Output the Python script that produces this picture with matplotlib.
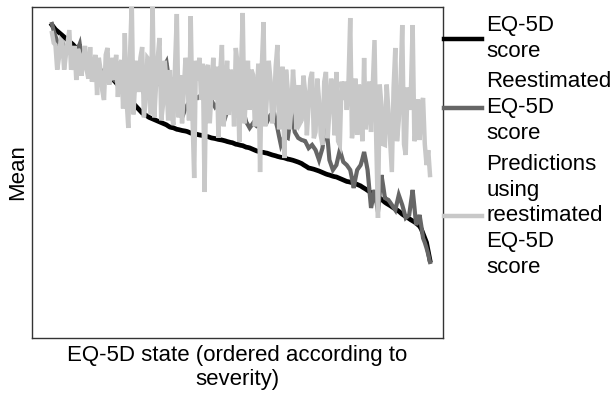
import numpy as np
import matplotlib
matplotlib.use("Agg")
import matplotlib.pyplot as plt

plt.rcParams['font.family'] = ['Liberation Sans', 'DejaVu Sans']

# mean values per EQ-5D state, states ordered by severity
eq5d_score = [
    1.00, 0.985, 0.97, 0.96, 0.95, 0.94, 0.93, 0.92, 0.91, 0.90,
    0.89, 0.88, 0.87, 0.858, 0.845, 0.832, 0.82, 0.81, 0.80, 0.788,
    0.775, 0.762, 0.75, 0.742, 0.735, 0.725, 0.715, 0.705, 0.695, 0.688,
    0.68, 0.67, 0.66, 0.652, 0.645, 0.635, 0.625, 0.612, 0.60, 0.585,
    0.57, 0.55, 0.53, 0.518, 0.505, 0.495, 0.485, 0.472, 0.46, 0.448,
    0.435, 0.422, 0.41, 0.402, 0.395, 0.388, 0.38, 0.375, 0.37, 0.365,
    0.36, 0.355, 0.35, 0.345, 0.34, 0.335, 0.33, 0.322, 0.315, 0.312,
    0.31, 0.305, 0.30, 0.298, 0.295, 0.292, 0.29, 0.288, 0.285, 0.28,
    0.275, 0.272, 0.27, 0.268, 0.265, 0.262, 0.26, 0.258, 0.255, 0.252,
    0.25, 0.246, 0.242, 0.24, 0.238, 0.235, 0.232, 0.23, 0.228, 0.225,
    0.222, 0.218, 0.215, 0.212, 0.21, 0.205, 0.20, 0.198, 0.195, 0.192,
    0.19, 0.185, 0.18, 0.178, 0.175, 0.17, 0.165, 0.16, 0.155, 0.152,
    0.148, 0.146, 0.145, 0.142, 0.14, 0.136, 0.132, 0.128, 0.125, 0.122,
    0.118, 0.115, 0.112, 0.11, 0.108, 0.104, 0.10, 0.098, 0.095, 0.092,
    0.088, 0.084, 0.08, 0.075, 0.07, 0.062, 0.055, 0.048, 0.04, 0.038,
    0.035, 0.032, 0.028, 0.024, 0.02, 0.015, 0.01, 0.005, 0.0, -0.004,
    -0.007, -0.011, -0.015, -0.018, -0.02, -0.025, -0.03, -0.035, -0.04, -0.045,
    -0.05, -0.052, -0.055, -0.058, -0.06, -0.065, -0.07, -0.075, -0.08, -0.088,
    -0.095, -0.102, -0.11, -0.118, -0.125, -0.132, -0.14, -0.148, -0.155, -0.162,
    -0.17, -0.18, -0.19, -0.198, -0.205, -0.212, -0.22, -0.228, -0.235, -0.242,
    -0.25, -0.26, -0.27, -0.278, -0.285, -0.292, -0.30, -0.308, -0.315, -0.322,
    -0.33, -0.34, -0.35, -0.37, -0.40, -0.43, -0.46, -0.52, -0.58,
]

reestimated = [
    1.007, 0.96, 0.926, 0.89, 0.866, 0.88, 0.886, 0.85, 0.832, 0.826,
    0.819, 0.81, 0.799, 0.79, 0.785, 0.84, 0.872, 0.79, 0.732, 0.745,
    0.752, 0.745, 0.738, 0.73, 0.725, 0.718, 0.711, 0.705, 0.698, 0.69,
    0.685, 0.678, 0.671, 0.66, 0.651, 0.64, 0.631, 0.665, 0.685, 0.678,
    0.671, 0.665, 0.658, 0.645, 0.631, 0.624, 0.617, 0.614, 0.611, 0.604,
    0.597, 0.59, 0.577, 0.54, 0.510, 0.55, 0.591, 0.584, 0.577, 0.584,
    0.591, 0.61, 0.631, 0.665, 0.698, 0.73, 0.752, 0.67, 0.597, 0.615,
    0.631, 0.59, 0.550, 0.52, 0.497, 0.45, 0.409, 0.44, 0.463, 0.48,
    0.497, 0.51, 0.523, 0.515, 0.510, 0.52, 0.530, 0.55, 0.564, 0.54,
    0.517, 0.507, 0.497, 0.47, 0.450, 0.465, 0.483, 0.49, 0.497, 0.44,
    0.383, 0.42, 0.456, 0.45, 0.443, 0.45, 0.456, 0.443, 0.430, 0.437,
    0.443, 0.396, 0.349, 0.33, 0.309, 0.325, 0.342, 0.332, 0.322, 0.329,
    0.336, 0.356, 0.376, 0.362, 0.349, 0.372, 0.396, 0.406, 0.416, 0.36,
    0.309, 0.25, 0.195, 0.225, 0.255, 0.248, 0.242, 0.33, 0.416, 0.35,
    0.282, 0.262, 0.242, 0.235, 0.228, 0.225, 0.221, 0.198, 0.174, 0.185,
    0.195, 0.178, 0.161, 0.128, 0.094, 0.134, 0.174, 0.27, 0.362, 0.23,
    0.094, 0.06, 0.027, 0.044, 0.060, 0.11, 0.161, 0.12, 0.081, 0.07,
    0.060, 0.044, 0.027, -0.03, -0.094, -0.03, 0.027, 0.044, 0.060, 0.1,
    0.148, 0.09, 0.027, -0.1, -0.228, -0.17, -0.107, -0.18, -0.255, -0.13,
    -0.007, -0.08, -0.161, -0.168, -0.174, -0.19, -0.208, -0.225, -0.242, -0.19,
    -0.141, -0.175, -0.208, -0.25, -0.295, -0.285, -0.275, -0.19, -0.107, -0.22,
    -0.342, -0.31, -0.275, -0.35, -0.430, -0.46, -0.497, -0.54, -0.591,
]

predictions = [
    0.946, 0.88, 0.866, 0.70, 0.779, 0.90, 0.886, 0.70, 0.799, 0.88,
    0.966, 0.70, 0.752, 0.86, 0.631, 0.84, 0.799, 0.66, 0.765, 0.86,
    0.698, 0.64, 0.852, 0.62, 0.664, 0.80, 0.530, 0.78, 0.698, 0.56,
    0.497, 0.80, 0.846, 0.60, 0.664, 0.78, 0.631, 0.80, 0.517, 0.72,
    0.765, 0.44, 0.946, 0.50, 0.309, 0.80, 1.154, 0.40, 0.631, 0.76,
    0.550, 0.78, 0.852, 0.38, 0.483, 0.78, 0.765, 0.40, 1.168, 0.38,
    0.597, 0.78, 0.913, 0.36, 0.463, 0.76, 0.631, 0.36, 0.698, 0.40,
    0.329, 0.74, 1.074, 0.38, 0.664, 0.34, 0.564, 0.78, 0.698, 0.36,
    1.060, 0.40, -0.027, 0.76, 0.631, 0.78, 0.497, 0.74, -0.121, 0.70,
    0.732, 0.34, 0.564, 0.78, 0.497, 0.72, 0.242, 0.68, 0.866, 0.32,
    0.564, 0.76, 0.396, 0.70, 0.631, 0.32, 0.846, 0.74, 0.215, 0.70,
    1.081, 0.34, 0.564, 0.76, 0.430, 0.70, 0.664, 0.32, 0.497, 0.74,
    0.013, 0.72, 1.020, 0.32, 0.530, 0.76, 0.631, 0.34, 0.430, 0.72,
    0.866, 0.30, 0.497, 0.72, 0.107, 0.70, 0.564, 0.30, 0.430, 0.70,
    0.530, 0.30, 0.597, 0.34, 0.362, 0.66, 0.550, 0.26, 0.463, 0.64,
    0.685, 0.24, 0.282, 0.64, 0.497, 0.26, 0.195, 0.62, 0.685, 0.24,
    0.430, 0.64, 0.530, 0.26, 0.685, 0.22, 0.195, 0.62, 0.497, 0.62,
    0.430, 0.62, 1.047, 0.24, 0.362, 0.64, 0.262, 0.60, 0.497, 0.22,
    0.779, 0.30, 0.430, 0.62, 0.282, 0.60, 0.899, 0.22, -0.295, 0.60,
    0.463, 0.20, 0.195, 0.60, 0.430, 0.22, 0.013, 0.58, 0.846, 0.22,
    0.362, 0.60, 1.0, 0.20, 0.128, 0.58, 0.430, 0.56, 1.0, 0.22,
    0.295, 0.50, 0.228, 0.46, 0.510, 0.20, 0.060, 0.16, -0.007,
]

states = np.arange(len(eq5d_score))

fig = plt.figure(figsize=(6.15, 3.96), dpi=100)
ax = fig.add_axes([32 / 615, 1 - 338 / 396, 411 / 615, 331 / 396])

ax.plot(states, eq5d_score, color='black', lw=3.4, zorder=1,
        solid_joinstyle='miter', label='EQ-5D\nscore')
ax.plot(states, reestimated, color='#666666', lw=3.0, zorder=2,
        solid_joinstyle='miter', label='Reestimated\nEQ-5D\nscore')
ax.plot(states, predictions, color='#c8c8c8', lw=3.2, zorder=3,
        solid_joinstyle='miter', label='Predictions\nusing\nreestimated\nEQ-5D\nscore')

ax.set_xlim(-11.53, 225.5)
ax.set_ylim(-1.101, 1.121)
ax.set_xticks([])
ax.set_yticks([])
for s in ax.spines.values():
    s.set_color('#333333')
    s.set_linewidth(1.0)

ax.set_xlabel('EQ-5D state (ordered according to\nseverity)', fontsize=16, labelpad=5)
ax.set_ylabel('Mean', fontsize=16, labelpad=3)

leg = ax.legend(loc='upper left', bbox_to_anchor=(444 / 615, 1 - 15 / 396),
                bbox_transform=fig.transFigure, frameon=False, fontsize=16,
                handlelength=1.7, handletextpad=0.2, labelspacing=0.42,
                borderpad=0, borderaxespad=0)
for t in leg.get_texts():
    t.set_linespacing(1.31)
for h in leg.get_lines():
    h.set_linewidth(3.2)

fig.savefig('out.png', dpi=100)
